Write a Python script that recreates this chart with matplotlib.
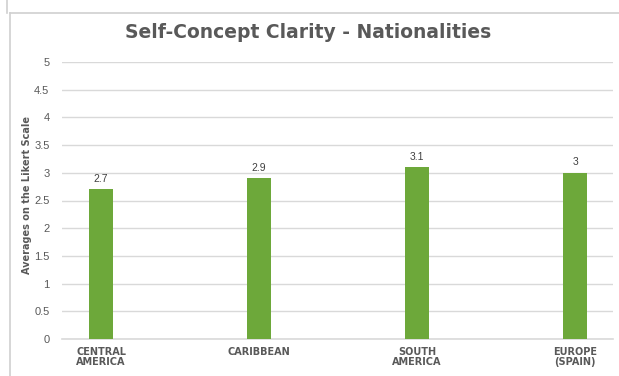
import matplotlib.pyplot as plt
from matplotlib.lines import Line2D

# Mean self-concept clarity score per nationality group
regions = ['CENTRAL\nAMERICA', 'CARIBBEAN', 'SOUTH\nAMERICA', 'EUROPE\n(SPAIN)']
averages = [2.7, 2.9, 3.1, 3.0]
value_labels = ['2.7', '2.9', '3.1', '3']
y_ticks = [0, 0.5, 1, 1.5, 2, 2.5, 3, 3.5, 4, 4.5, 5]
y_tick_labels = ['0', '0.5', '1', '1.5', '2', '2.5', '3', '3.5', '4', '4.5', '5']

W, H = 619, 376
fig = plt.figure(figsize=(W / 100, H / 100), dpi=100)

# light frame around the chart (top and left edges only show)
frame = dict(transform=fig.transFigure, color='#D0D0D0', linewidth=1.2)
fig.add_artist(Line2D([10 / W, 1.01], [1 - 13 / H, 1 - 13 / H], **frame))
fig.add_artist(Line2D([10 / W, 10 / W], [-0.01, 1 - 13 / H], **frame))
fig.add_artist(Line2D([7 / W, 7 / W], [1 - 13 / H, 1.01], **frame))

ax = fig.add_axes([62 / W, 1 - 339 / H, (613 - 62) / W, (339 - 62) / H])

x = list(range(len(regions)))
bars = ax.bar(x, averages, width=0.152, color='#6DA83A', zorder=3)

for xi, v, lab in zip(x, averages, value_labels):
    ax.annotate(lab, (xi, v), xytext=(0, 4), textcoords='offset points',
                ha='center', va='bottom', fontsize=7.5, color='#404040',
                family='Liberation Sans')

ax.set_xlim(-0.247, 3.24)
ax.set_ylim(0, 5)
ax.set_yticks(y_ticks)
ax.set_yticklabels(y_tick_labels, family='Liberation Sans', fontsize=8, color='#595959')
ax.set_xticks(x)
ax.set_xticklabels(regions, fontsize=7, fontweight='bold', color='#595959',
                   family='DejaVu Sans', linespacing=0.95)
ax.tick_params(axis='y', length=0, pad=9)
ax.tick_params(axis='x', length=0, pad=6)

ax.grid(axis='y', color='#D9D9D9', linewidth=1, zorder=0)
for s in ['top', 'right', 'left']:
    ax.spines[s].set_visible(False)
ax.spines['bottom'].set_color('#D9D9D9')
ax.spines['bottom'].set_linewidth(1.2)

ax.set_ylabel('Averages on the Likert Scale', fontsize=7, fontweight='bold',
              color='#595959')
ax.yaxis.set_label_coords((32 - 62) / (613 - 62), 0.52)

fig.text(308 / W, 1 - 33 / H, 'Self-Concept Clarity - Nationalities', ha='center', va='center',
         fontsize=13.5, fontweight='bold', color='#595959')

fig.savefig('out.png', dpi=100)
